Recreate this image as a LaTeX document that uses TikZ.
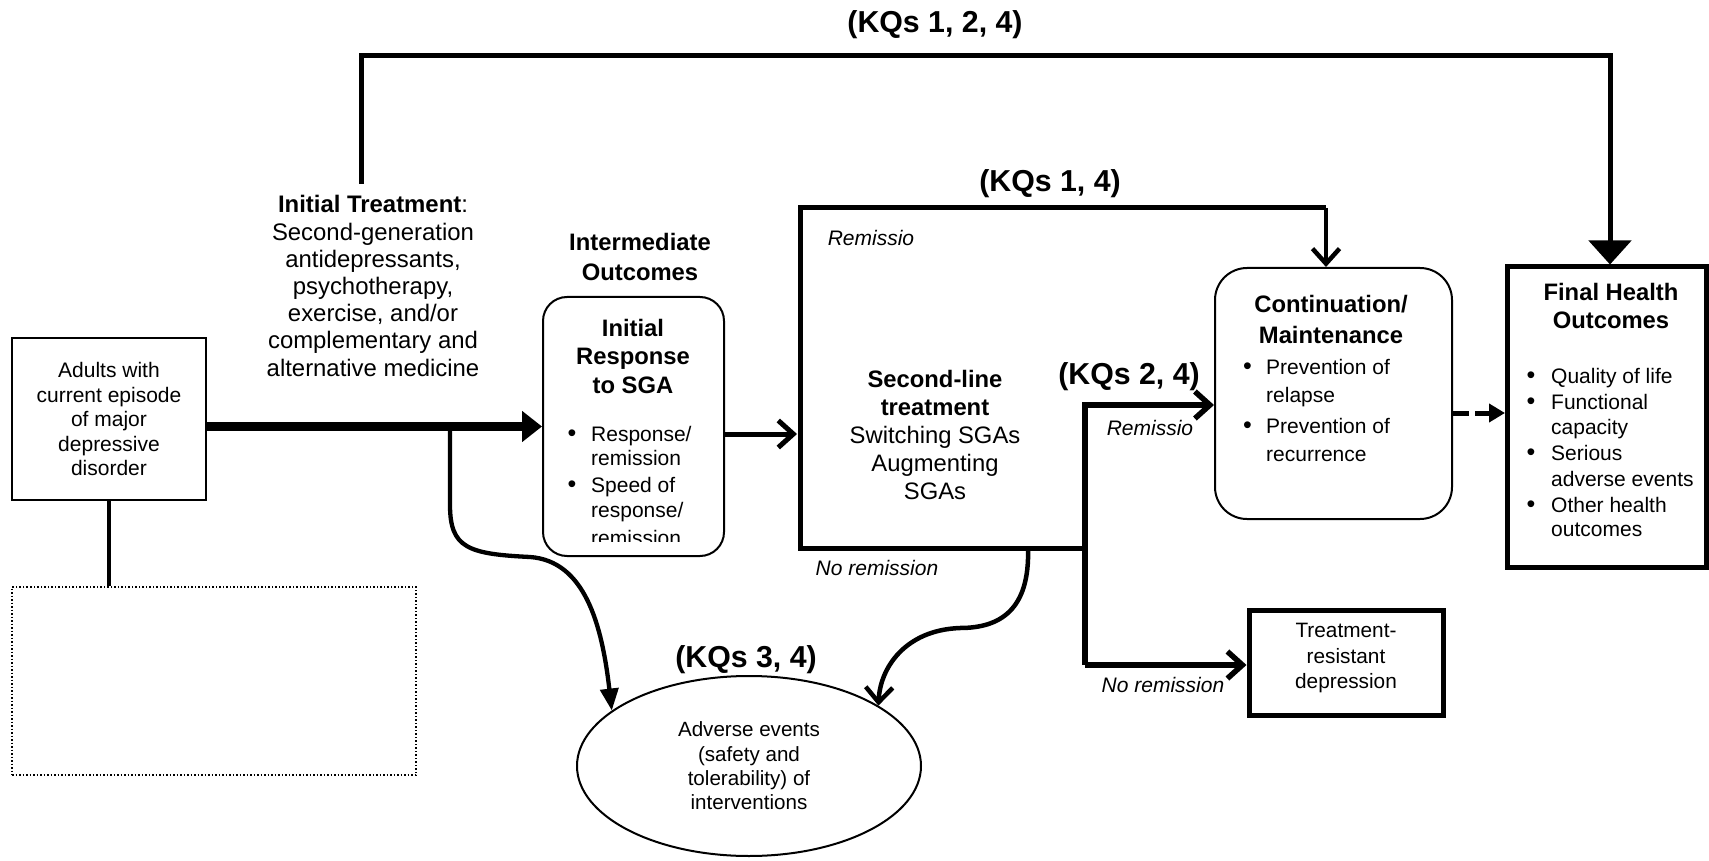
\documentclass[tikz,border=0pt]{standalone}
\usepackage{fontspec}
\setmainfont{Liberation Sans}
\usetikzlibrary{arrows.meta,shapes.geometric}
\begin{document}
\begin{tikzpicture}[x=1pt,y=-1pt,
  fs/.style 2 args={font=\fontsize{#1}{#2}\selectfont},
  kq/.style={inner sep=0pt,font=\fontsize{30.3}{34}\selectfont\bfseries},
  lbl/.style={inner sep=0pt,font=\fontsize{21}{24}\selectfont\itshape},
  ctext/.style={inner sep=0pt,align=center},
  bul/.style={inner sep=0pt,anchor=base west,font=\fontsize{21}{24}\selectfont},
  dot/.style={inner sep=0pt,anchor=base west,font=\fontsize{25}{28}\selectfont},
  chev/.style={-{Straight Barb[length=15pt,width=27pt]}},
  thin box/.style={draw,line width=2pt},
  thick box/.style={draw,line width=5pt},
]
\useasboundingbox (0,0) rectangle (1709,861);
\fill[white] (0,0) rectangle (1709,861);

% ---------- nodes ----------
\node[kq] (kqA) at (935,25) {(KQs 1, 2, 4)};
\node[ctext,fs={23.9}{27.2}] (it) at (373,286) {\textbf{Initial Treatment}:\\Second-generation\\antidepressants,\\psychotherapy,\\exercise, and/or\\complementary and\\alternative medicine};

\node[thin box,minimum width=194,minimum height=162,ctext,fs={21}{24.5}] (adults) at (109,419) {Adults with\\current episode\\of major\\depressive\\disorder};
\node[draw,dotted,line width=1.5pt,minimum width=404,minimum height=188] (note) at (214,681) {};

\node[ctext,font=\fontsize{23.8}{30}\selectfont\bfseries] (io) at (640,257) {Intermediate\\Outcomes};
\node[thin box,rounded corners=24pt,minimum width=181,minimum height=259] (ir) at (633.5,426.5) {};
\node[ctext,font=\fontsize{23.8}{28.5}\selectfont\bfseries] (irt) at (633,356) {Initial\\Response\\to SGA};
\node[dot] (irb1) at (567.5,441) {•};
\node[bul] (ir1a) at (591,441) {Response/};
\node[bul] (ir1b) at (591,465) {remission};
\node[dot] (irb2) at (567.5,492) {•};
\node[bul] (ir2a) at (591,492) {Speed of};
\node[bul] (ir2b) at (591,517) {response/};
\begin{scope}
\clip (543,297) rectangle (724,541.5);
\node[bul] (ir2c) at (591,545) {remission};
\end{scope}

\node[ctext,fs={23.8}{28.2}] (sl) at (935,435) {\textbf{Second-line}\\\textbf{treatment}\\Switching SGAs\\Augmenting\\SGAs};
\node[lbl] (rem1) at (871,238) {Remissio};
\node[kq] (kqB) at (1050,184) {(KQs 1, 4)};
\node[kq] (kqC) at (1129,377) {(KQs 2, 4)};
\node[lbl] (rem2) at (1150,428) {Remissio};
\node[lbl] (nrem1) at (877,568) {No remission};

\node[thin box,rounded corners=32pt,minimum width=237,minimum height=251] (cont) at (1333.5,393.5) {};
\node[ctext,font=\fontsize{23.8}{31}\selectfont\bfseries] (ct) at (1331,319) {Continuation/\\Maintenance};
\node[dot] (cb1) at (1243,374) {•};
\node[bul] (c1a) at (1266,374) {Prevention of};
\node[bul] (c1b) at (1266,402) {relapse};
\node[dot] (cb2) at (1243,433) {•};
\node[bul] (c2a) at (1266,433) {Prevention of};
\node[bul] (c2b) at (1266,461) {recurrence};

\node[thick box,minimum width=199,minimum height=300] (fin) at (1606.5,417) {};
\node[ctext,font=\fontsize{23.8}{28}\selectfont\bfseries] (ft) at (1611,306) {Final Health\\Outcomes};
\node[dot] (fb1) at (1526.5,383) {•};
\node[bul] (f1) at (1551,383) {Quality of life};
\node[dot] (fb2) at (1526.5,409) {•};
\node[bul] (f2a) at (1551,409) {Functional};
\node[bul] (f2b) at (1551,434) {capacity};
\node[dot] (fb3) at (1526.5,460) {•};
\node[bul] (f3a) at (1551,460) {Serious};
\node[bul] (f3b) at (1551,486) {adverse events};
\node[dot] (fb4) at (1526.5,512) {•};
\node[bul] (f4a) at (1551,512) {Other health};
\node[bul] (f4b) at (1551,536) {outcomes};

\node[thick box,minimum width=194,minimum height=105] (tr) at (1346,662.5) {};
\node[ctext,fs={20.8}{25.5}] (trt) at (1346,658) {Treatment-\\resistant\\depression};
\node[lbl] (nrem2) at (1163,685) {No remission};

\node[draw,ellipse,line width=2pt,minimum width=344,minimum height=180,ctext,fs={20.6}{24.4}] (ae) at (749,766) {Adverse events\\(safety and\\tolerability) of\\interventions};
\node[kq] (kqD) at (746,660) {(KQs 3, 4)};

% ---------- coordinates ----------
\coordinate (itTop) at (361,184);
\coordinate (topL) at (361,56);
\coordinate (topR) at (1610,56);
\coordinate (br) at (450,426.5);
\coordinate (slTL) at (800,208);
\coordinate (slBL) at (800,548);
\coordinate (slBR) at (1085,548);
\coordinate (slTR) at (1326,208);
\coordinate (jTop) at (1085,405);
\coordinate (jBot) at (1085,665);
\coordinate (slIn) at (797,434);
\coordinate (slOut) at (1028,548);
\coordinate (finIn) at (1505,413);

% ---------- connectors ----------
\draw[line width=5pt,-{Triangle[length=24pt,width=42pt]}] (itTop) -- (topL) -- (topR) -- (topR |- fin.north);
\draw[line width=4pt] (adults.south) -- (adults.south |- note.north);
\draw[line width=9pt,-{Triangle[length=20pt,width=30pt]}] (adults.east |- ir.west) -- (ir.west);
\draw[line width=4.3pt,-{Triangle[length=22pt,width=18pt]}] (br) -- (450,505) .. controls (450,548) and (468,554) .. (530,557) .. controls (585,561) and (602,625) .. (ae.158);
\draw[line width=5pt,chev] (ir.east |- slIn) -- (slIn);
\draw[line width=5pt] (slTR) -- (slTL) -- (slBL) -- (slBR);
\draw[line width=4.5pt,chev] (slTR) -- (slTR |- cont.north);
\draw[line width=5.5pt,chev] (jBot) -- (jTop) -- (jTop -| cont.west);
\draw[line width=5.5pt,chev] (jBot) -- (jBot -| tr.west);
\draw[line width=4.5pt,chev] (slOut) .. controls (1030,610) and (1000,628) .. (960,628) .. controls (905,630) and (880,668) .. (ae.25);
\draw[line width=5pt,dash pattern=on 16pt off 6pt,-{Triangle[length=16pt,width=18pt]}] (cont.east |- finIn) -- (finIn);
\end{tikzpicture}
\end{document}
